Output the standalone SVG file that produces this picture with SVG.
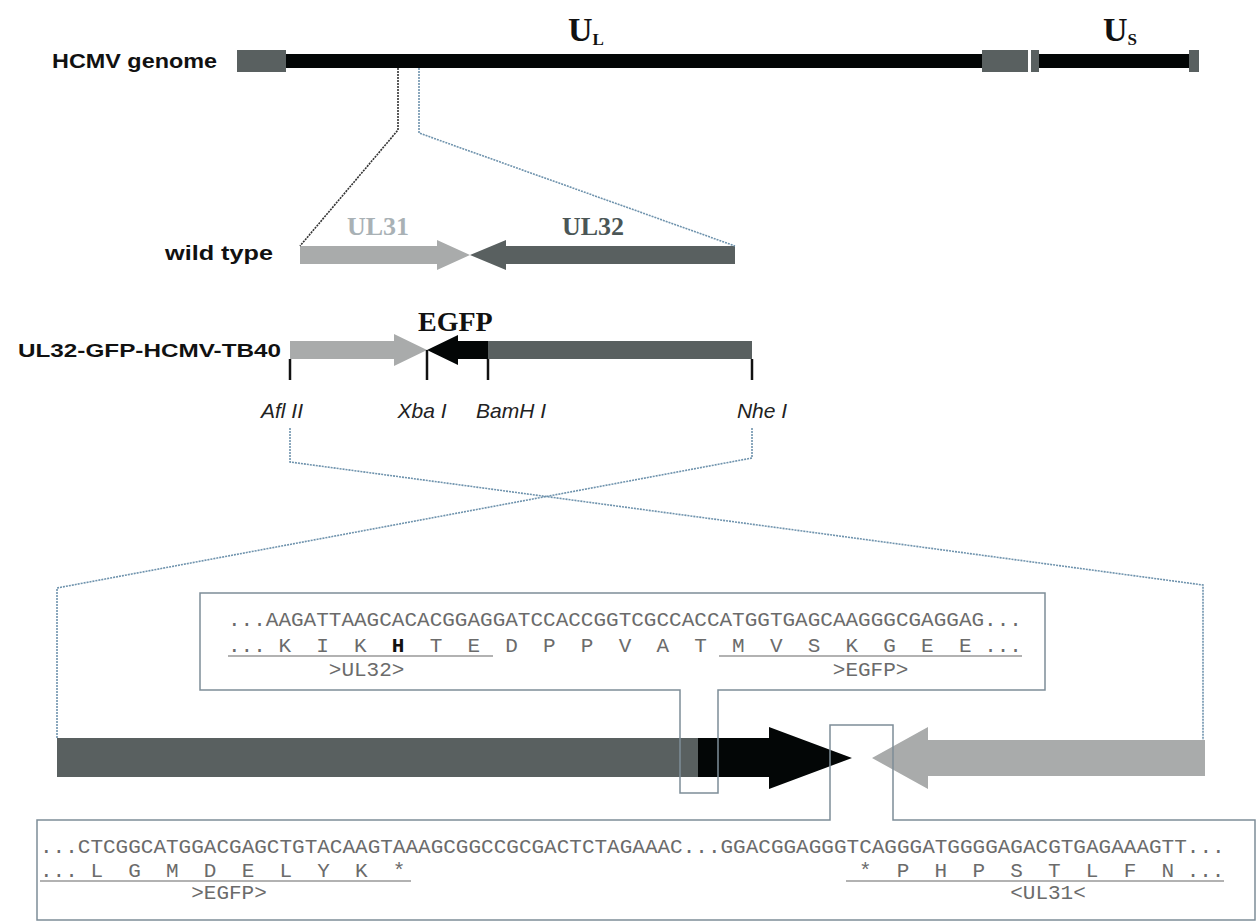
<svg xmlns="http://www.w3.org/2000/svg" width="1258" height="922" viewBox="0 0 1258 922">
<style>
.lbl{font-family:"Liberation Sans",Arial,sans-serif;font-weight:bold;fill:#111}
.ser{font-family:"Liberation Serif","Times New Roman",serif;font-weight:bold}
.site{font-family:"Liberation Sans",Arial,sans-serif;font-style:italic;font-size:21px;fill:#222}
.seq{font-family:"Liberation Mono","Courier New",monospace;font-size:21px;fill:#6b6b6b}
.dg{fill:#596060}
.lg{fill:#a9abab}
.blk{fill:#030606}
.dotb{fill:none;stroke:#6f93ad;stroke-width:1.6;stroke-dasharray:2 1}
.dotk{fill:none;stroke:#333;stroke-width:1.6;stroke-dasharray:2 1}
.box{fill:none;stroke:#7d8d98;stroke-width:1.5}
.ul{stroke:#666;stroke-width:1.2}
.tick{stroke:#111;stroke-width:2.5}
</style>

<g id="genome">
  <text class="lbl" x="52" y="68" font-size="20" textLength="165" lengthAdjust="spacingAndGlyphs">HCMV genome</text>
  <rect class="dg" x="237" y="50" width="49" height="22"/>
  <rect class="blk" x="286" y="54" width="696" height="14"/>
  <rect class="dg" x="982" y="50" width="46" height="22"/>
  <rect class="dg" x="1031" y="50" width="8" height="22"/>
  <rect class="blk" x="1039" y="54" width="150" height="14"/>
  <rect class="dg" x="1189" y="50" width="10" height="22"/>
  <text class="ser" x="568" y="41" font-size="34" fill="#111">U<tspan font-size="17" dy="4">L</tspan></text>
  <text class="ser" x="1103" y="41" font-size="34" fill="#111">U<tspan font-size="17" dy="4">S</tspan></text>
</g>

<g id="wildtype">
  <text class="lbl" x="165" y="260" font-size="20" textLength="108" lengthAdjust="spacingAndGlyphs">wild type</text>
  <polygon class="lg" points="300,246 437,246 437,240 470,255 437,270 437,264 300,264"/>
  <polygon class="dg" points="735,246 506,246 506,240 470,255 506,270 506,264 735,264"/>
  <text class="ser" x="347" y="235" font-size="26" fill="#a9b1b5">UL31</text>
  <text class="ser" x="562" y="235" font-size="26" fill="#4b5656">UL32</text>
</g>

<g id="construct">
  <text class="lbl" x="18" y="357" font-size="19" textLength="263" lengthAdjust="spacingAndGlyphs">UL32-GFP-HCMV-TB40</text>
  <polygon class="lg" points="290,341 394,341 394,334 427,350 394,366 394,359 290,359"/>
  <polygon class="blk" points="427,350 458,335 458,341 488,341 488,359 458,359 458,365"/>
  <rect class="dg" x="488" y="341" width="264" height="18"/>
  <text class="ser" x="418" y="331" font-size="28" fill="#111">EGFP</text>
  <line class="tick" x1="290" y1="359" x2="290" y2="380"/>
  <line class="tick" x1="427" y1="350" x2="427" y2="380"/>
  <line class="tick" x1="488" y1="359" x2="488" y2="380"/>
  <line class="tick" x1="752" y1="359" x2="752" y2="380"/>
  <text class="site" x="282" y="418" text-anchor="middle">Afl II</text>
  <text class="site" x="422" y="418" text-anchor="middle">Xba I</text>
  <text class="site" x="511" y="418" text-anchor="middle">BamH I</text>
  <text class="site" x="762" y="418" text-anchor="middle">Nhe I</text>
</g>

<g id="connectors">
  <path class="dotk" d="M398,68 V130 L300,246"/>
  <path class="dotb" d="M419,68 V133 L735,246"/>
  <path class="dotb" d="M290,428 V462 L1203,585 V740"/>
  <path class="dotb" d="M752,428 V458 L57,588 V738"/>
</g>

<g id="arrows">
  <rect class="dg" x="57" y="738" width="642" height="39"/>
  <polygon class="blk" points="698,738 769,738 769,727 852,758 769,789 769,777 698,777"/>
  <polygon class="lg" points="872,758 928,727 928,740 1205,740 1205,776 928,776 928,789"/>
</g>

<g id="seqtop">
  <path class="box" d="M200,593 H1045 V690 H718 V793 H680 V690 H200 Z"/>
  <text class="seq" x="228" y="626" xml:space="preserve">...AAGATTAAGCACACGGAGGATCCACCGGTCGCCACCATGGTGAGCAAGGGCGAGGAG...</text>
  <text class="seq" x="228" y="652" xml:space="preserve">... K  I  K  <tspan font-weight="bold" fill="#111">H</tspan>  T  E  D  P  P  V  A  T  M  V  S  K  G  E  E ...</text>
  <line class="ul" x1="228" y1="656" x2="493" y2="656"/>
  <line class="ul" x1="719" y1="656" x2="1022" y2="656"/>
  <text class="seq" x="328.8" y="676">&gt;UL32&gt;</text>
  <text class="seq" x="832.8" y="676">&gt;EGFP&gt;</text>
</g>

<g id="seqbottom">
  <path class="box" d="M37,820 H830 V725 H893 V820 H1255 V920 H37 Z"/>
  <text class="seq" x="40" y="853" xml:space="preserve">...CTCGGCATGGACGAGCTGTACAAGTAAAGCGGCCGCGACTCTAGAAAC...GGACGGAGGGTCAGGGATGGGGAGACGTGAGAAAGTT...</text>
  <text class="seq" x="40" y="877" xml:space="preserve">... L  G  M  D  E  L  Y  K  *</text>
  <text class="seq" x="859" y="877" xml:space="preserve">*  P  H  P  S  T  L  F  N ...</text>
  <line class="ul" x1="40" y1="881" x2="411" y2="881"/>
  <line class="ul" x1="846" y1="881" x2="1224" y2="881"/>
  <text class="seq" x="191.2" y="899">&gt;EGFP&gt;</text>
  <text class="seq" x="1010.2" y="899">&lt;UL31&lt;</text>
</g>
</svg>
